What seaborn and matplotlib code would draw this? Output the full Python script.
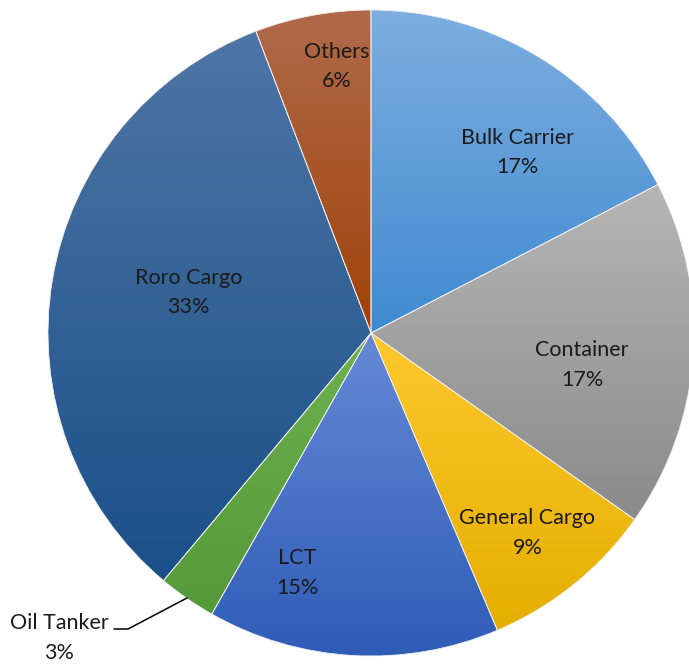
import numpy as np
import matplotlib
matplotlib.use("Agg")
import matplotlib.pyplot as plt
import matplotlib.colors as mcolors
import seaborn as sns

categorias = ["Bulk Carrier", "Container", "General Cargo", "LCT", "Oil Tanker", "Roro Cargo", "Others"]
valores = [17.4, 17.4, 8.8, 14.6, 2.9, 33.1, 5.8]

# Colores degradados (arriba, abajo) de cada sector
colores_arriba = ["#7eaee0", "#b6b6b6", "#ffc82e", "#6589d6", "#6db14f", "#4e75a5", "#b06a4b"]
colores_abajo = ["#3f8bd1", "#8a8a8a", "#e4ae00", "#2f5cb7", "#55993a", "#1a5088", "#a04208"]

# Ubicación de las etiquetas dentro de cada sector (radio, ángulo en grados)
pos_etiquetas = [(0.725, 51.4), (0.66, -7.9), (0.78, -51.6), (0.77, -107.3), None, (0.58, 166.7), (0.84, 97.2)]

sns.set_theme(style="white")
plt.rcParams["font.family"] = ["Lato", "DejaVu Sans"]

fig = plt.figure(figsize=(6.89, 6.64), dpi=100)
ax = fig.add_axes([48 / 689, 8 / 664, 646 / 689, 646 / 664])

wedges, _ = ax.pie(valores, startangle=90, counterclock=False, radius=1.0,
                   wedgeprops=dict(linewidth=0.6, edgecolor="#f0f0f0"))

for w, c1, c2 in zip(wedges, colores_arriba, colores_abajo):
    w.set_facecolor("none")
    w.set_zorder(3)
    bb = w.get_path().get_extents()
    cmap = mcolors.LinearSegmentedColormap.from_list("g", [c2, c1])
    grad = np.linspace(0, 1, 256).reshape(-1, 1)
    im = ax.imshow(grad, cmap=cmap, origin="lower", aspect="auto",
                   extent=[bb.x0, bb.x1, bb.y0, bb.y1], zorder=2, interpolation="bilinear")
    im.set_clip_path(w)

for nombre, v, pos in zip(categorias, valores, pos_etiquetas):
    texto = f"{nombre}\n{v:.0f}%"
    if pos is None:
        continue
    r, ang = pos
    ax.text(r * np.cos(np.radians(ang)), r * np.sin(np.radians(ang)) - 0.008, texto,
            ha="center", va="center", fontsize=15.5, color="#1a1a1a",
            linespacing=1.58, zorder=5)

# Etiqueta externa de Oil Tanker con línea guía
def a_datos(px, py):
    return (px - 371) / 323, (333 - py) / 323

p1 = a_datos(187, 598)
p2 = a_datos(128, 629)
p3 = a_datos(114, 629)
ax.plot([p1[0], p2[0], p3[0]], [p1[1], p2[1], p3[1]], color="black", lw=1.1,
        zorder=5, clip_on=False)
tx, ty = a_datos(59, 638)
ax.text(tx, ty, f"{categorias[4]}\n{valores[4]:.0f}%", ha="center", va="center",
        fontsize=15.5, color="#1a1a1a", linespacing=1.58, zorder=5, clip_on=False)

ax.set_xlim(-1, 1)
ax.set_ylim(-1, 1)
ax.set_aspect("auto")
ax.axis("off")

fig.savefig("out.png", dpi=100)
